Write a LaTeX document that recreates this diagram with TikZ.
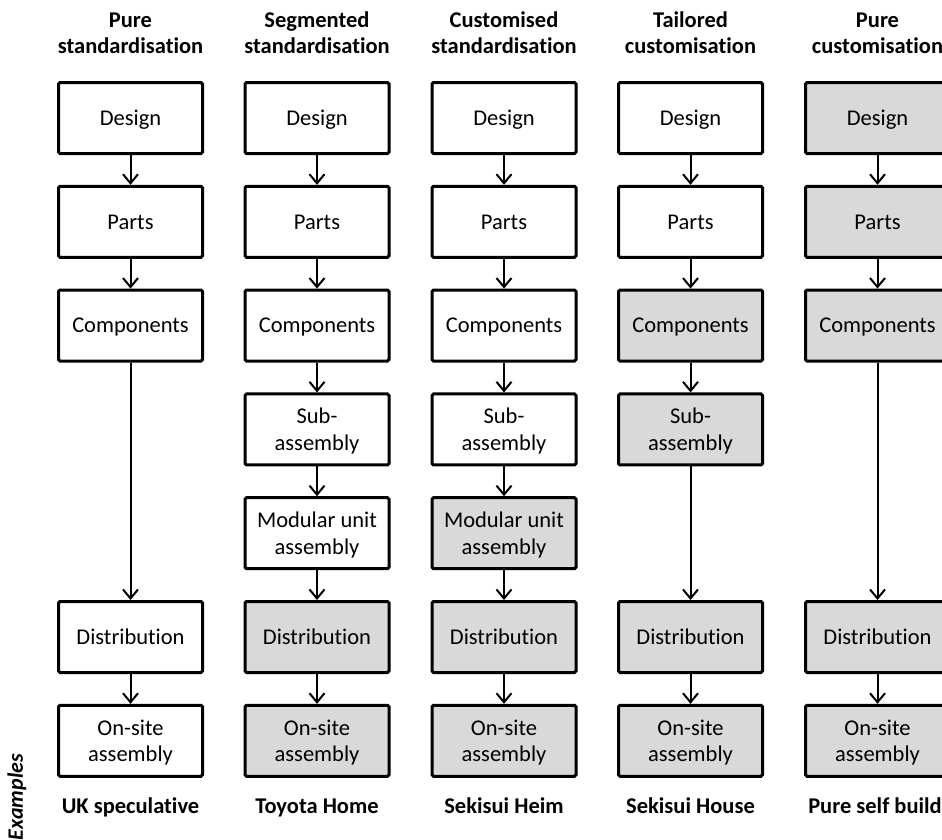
\documentclass[tikz,border=0pt]{standalone}
\usepackage{fontspec}
\setmainfont{Carlito}[RawFeature={-liga}]
\usetikzlibrary{arrows.meta}
\definecolor{shade}{HTML}{D9D9D9}
\tikzset{
  stage/.style={draw=black, line width=3pt, rounded corners=1.5pt,
    minimum width=144pt, minimum height=71pt, align=center,
    font=\fontsize{22.5}{26.5}\selectfont, inner sep=0pt, text depth=0pt},
  done/.style={stage, fill=shade},
  flow/.style={line width=2pt, -{Straight Barb[length=9pt,width=15pt,line width=2pt]}},
  heading/.style={align=center, font=\fontsize{22.5}{26}\selectfont\bfseries},
  example/.style={anchor=base, inner sep=0pt, font=\fontsize{22.5}{26}\selectfont\bfseries}
}
\begin{document}
\begin{tikzpicture}[x=1pt,y=-1pt]
\useasboundingbox (0,0) rectangle (942,839);
\begin{scope}
\clip (0,0) rectangle (942,839);

% column headings
\node[heading] (h1) at (130.5,33) {Pure\\standardisation};
\node[heading] (h2) at (317,33) {Segmented\\standardisation};
\node[heading] (h3) at (504,33) {Customised\\standardisation};
\node[heading] (h4) at (690.5,33) {Tailored\\customisation};
\node[heading] (h5) at (877.5,33) {Pure\\customisation};

% pure standardisation
\node[stage] (a1) at (130.5,118) {Design};
\node[stage] (a2) at (130.5,221.8) {Parts};
\node[stage] (a3) at (130.5,325.6) {Components};
\node[stage] (a6) at (130.5,637) {Distribution};
\node[stage] (a7) at (130.5,740.8) {On-site\\assembly};
\draw[flow] (a1) -- (a2);
\draw[flow] (a2) -- (a3);
\draw[flow] (a3) -- (a6);
\draw[flow] (a6) -- (a7);

% segmented standardisation
\node[stage] (b1) at (317,118) {Design};
\node[stage] (b2) at (317,221.8) {Parts};
\node[stage] (b3) at (317,325.6) {Components};
\node[stage] (b4) at (317,429.4) {Sub-\\assembly};
\node[stage] (b5) at (317,533.2) {Modular unit\\assembly};
\node[done] (b6) at (317,637) {Distribution};
\node[done] (b7) at (317,740.8) {On-site\\assembly};
\draw[flow] (b1) -- (b2);
\draw[flow] (b2) -- (b3);
\draw[flow] (b3) -- (b4);
\draw[flow] (b4) -- (b5);
\draw[flow] (b5) -- (b6);
\draw[flow] (b6) -- (b7);

% customised standardisation
\node[stage] (c1) at (504,118) {Design};
\node[stage] (c2) at (504,221.8) {Parts};
\node[stage] (c3) at (504,325.6) {Components};
\node[stage] (c4) at (504,429.4) {Sub-\\assembly};
\node[done] (c5) at (504,533.2) {Modular unit\\assembly};
\node[done] (c6) at (504,637) {Distribution};
\node[done] (c7) at (504,740.8) {On-site\\assembly};
\draw[flow] (c1) -- (c2);
\draw[flow] (c2) -- (c3);
\draw[flow] (c3) -- (c4);
\draw[flow] (c4) -- (c5);
\draw[flow] (c5) -- (c6);
\draw[flow] (c6) -- (c7);

% tailored customisation
\node[stage] (d1) at (690.5,118) {Design};
\node[stage] (d2) at (690.5,221.8) {Parts};
\node[done] (d3) at (690.5,325.6) {Components};
\node[done] (d4) at (690.5,429.4) {Sub-\\assembly};
\node[done] (d6) at (690.5,637) {Distribution};
\node[done] (d7) at (690.5,740.8) {On-site\\assembly};
\draw[flow] (d1) -- (d2);
\draw[flow] (d2) -- (d3);
\draw[flow] (d3) -- (d4);
\draw[flow] (d4) -- (d6);
\draw[flow] (d6) -- (d7);

% pure customisation
\node[done] (e1) at (877.5,118) {Design};
\node[done] (e2) at (877.5,221.8) {Parts};
\node[done] (e3) at (877.5,325.6) {Components};
\node[done] (e6) at (877.5,637) {Distribution};
\node[done] (e7) at (877.5,740.8) {On-site\\assembly};
\draw[flow] (e1) -- (e2);
\draw[flow] (e2) -- (e3);
\draw[flow] (e3) -- (e6);
\draw[flow] (e6) -- (e7);

% examples row
\node[rotate=90, font=\fontsize{22}{26}\selectfont\bfseries\itshape] (ex) at (17,797) {Examples};
\node[example] (x1) at (130.5,813) {UK speculative};
\node[example] (x2) at (317,813) {Toyota Home};
\node[example] (x3) at (504,813) {Sekisui Heim};
\node[example] (x4) at (690.5,813) {Sekisui House};
\node[example] (x5) at (875,813) {Pure self build};
\end{scope}
\end{tikzpicture}
\end{document}
